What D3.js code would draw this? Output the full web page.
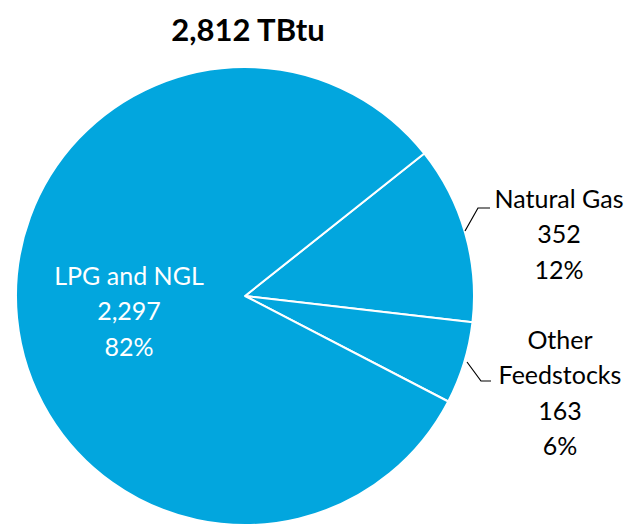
<!DOCTYPE html>
<meta charset="utf-8">
<head>
<script src="https://cdn.jsdelivr.net/npm/d3@7"></script>
<style>
body { margin: 0; background: #fff; }
text { font-family: Lato, "Open Sans", sans-serif; }
</style>
</head>
<body>
<script>
// data
var categories = ["Natural Gas", "Other Feedstocks", "LPG and NGL"];
var values = [352, 163, 2297];
var percents = ["12%", "6%", "82%"];
var total = "2,812 TBtu";

var width = 631, height = 525;
var cx = 245, cy = 296, r = 229;

var svg = d3.select("body").append("svg")
    .attr("width", width)
    .attr("height", height);

svg.append("text")
    .attr("x", 248).attr("y", 41)
    .attr("text-anchor", "middle")
    .style("font-size", "31px").style("font-weight", "bold")
    .text(total);

// first slice (Natural Gas) starts at ~51.5 degrees clockwise from 12 o'clock
var start = 51.5 * Math.PI / 180;
var pie = d3.pie().sort(null).startAngle(start).endAngle(start + 2 * Math.PI);
var arc = d3.arc().innerRadius(0).outerRadius(r);

var g = svg.append("g").attr("transform", "translate(" + cx + "," + cy + ")");

g.selectAll("path").data(pie(values)).enter().append("path")
    .attr("d", arc)
    .attr("fill", "#02A6DE")
    .attr("stroke", "#fff")
    .attr("stroke-width", 2)
    .attr("stroke-linejoin", "round");

// label blocks: outside for the small slices, inside for the big one
var nameLines = [["Natural Gas"], ["Other", "Feedstocks"], ["LPG and NGL"]];
var labelPos = [
  {x: 559, y: 199, color: "#000"},
  {x: 560, y: 340, color: "#000"},
  {x: 129, y: 276, color: "#fff"}
];

categories.forEach(function(c, i) {
  var lines = nameLines[i].concat([d3.format(",")(values[i]), percents[i]]);
  var p = labelPos[i];
  var t = svg.append("text")
      .attr("text-anchor", "middle")
      .attr("fill", p.color)
      .style("font-size", "25px");
  lines.forEach(function(s, j) {
    t.append("tspan").attr("x", p.x).attr("y", p.y + j * 35.5).attr("dy", "0.35em").text(s);
  });
});

// leader lines
var leaders = [
  [[465, 231], [478, 208], [490, 208]],
  [[467, 362], [481, 381], [491, 381]]
];
svg.selectAll("path.leader").data(leaders).enter().append("path")
    .attr("class", "leader")
    .attr("d", d3.line())
    .attr("fill", "none")
    .attr("stroke", "#000")
    .attr("stroke-width", 1.2);
</script>
</body>
